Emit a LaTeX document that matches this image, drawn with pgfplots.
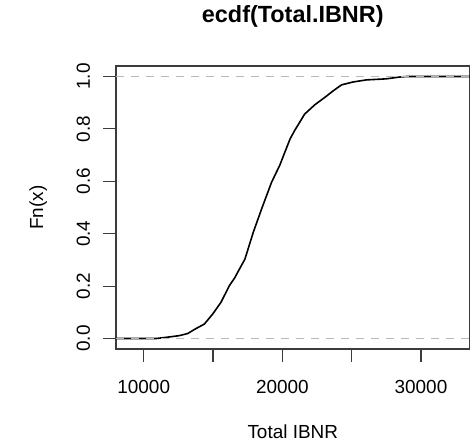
\documentclass[border=0pt]{standalone}
\usepackage{fontspec}
\setmainfont{Liberation Sans}
\usepackage{pgfplots}
\pgfplotsset{compat=1.18}
\definecolor{boxgray}{RGB}{60,60,60}
\definecolor{refgray}{RGB}{185,185,185}
\begin{document}
\begin{tikzpicture}
\useasboundingbox (-116bp,-94bp) rectangle (354bp,349bp);
\begin{axis}[
    scale only axis,
    width=353.5bp,
    height=283bp,
    xmin=8000, xmax=33500,
    ymin=-0.04, ymax=1.04,
    scaled x ticks=false,
    axis line style={boxgray, line width=1.1bp},
    tick style={boxgray, line width=1.1bp},
    tick align=outside,
    major tick length=12.5bp,
    xtick pos=bottom, ytick pos=left,
    xtick={10000,15000,20000,25000,30000},
    xticklabels={10000,,20000,,30000},
    ytick={0,0.2,0.4,0.6,0.8,1},
    yticklabels={0.0,0.2,0.4,0.6,0.8,1.0},
    ticklabel style={font=\fontsize{19}{22}\selectfont, inner sep=0pt},
    xticklabel style={anchor=base, yshift=-31.5bp},
    yticklabel style={xshift=-13.5bp, rotate=90, anchor=base},
    title={ecdf(Total.IBNR)},
    title style={at={(axis description cs:0.5,1)}, anchor=base, yshift=38bp,
        inner sep=0pt, font=\fontsize{23.5}{27}\selectfont\bfseries},
    xlabel={Total IBNR},
    xlabel style={at={(axis description cs:0.5,0)}, anchor=base, yshift=-89bp,
        inner sep=0pt, font=\fontsize{19}{22}\selectfont},
    ylabel={Fn(x)},
    ylabel style={at={(axis description cs:-0.2065,0.5)}, anchor=base, rotate=0,
        inner sep=0pt, font=\fontsize{19}{22}\selectfont},
]
% empirical distribution function
\addplot[black, line width=1.6bp] coordinates {
(8000,0) (10900,0) (11850,0.006) (12570,0.011) (13170,0.019) (13770,0.038)
(14370,0.055) (14970,0.093) (15570,0.138) (16170,0.201) (16580,0.233)
(16770,0.252) (17300,0.303) (17900,0.405) (18500,0.494) (19220,0.596)
(19820,0.662) (20180,0.711) (20560,0.762) (20900,0.795) (21250,0.825)
(21600,0.856) (22340,0.892) (23060,0.920) (23660,0.945) (24270,0.968)
(25100,0.979) (26070,0.987) (27500,0.991) (28470,0.998) (29000,1.0)
(33500,1.0)
};
% reference lines at 0 and 1
\addplot[refgray, line width=1.1bp, dash pattern=on 8bp off 7bp] coordinates {(8000,0) (33500,0)};
\addplot[refgray, line width=1.1bp, dash pattern=on 8bp off 7bp] coordinates {(8000,1) (33500,1)};
\end{axis}
\end{tikzpicture}
\end{document}
